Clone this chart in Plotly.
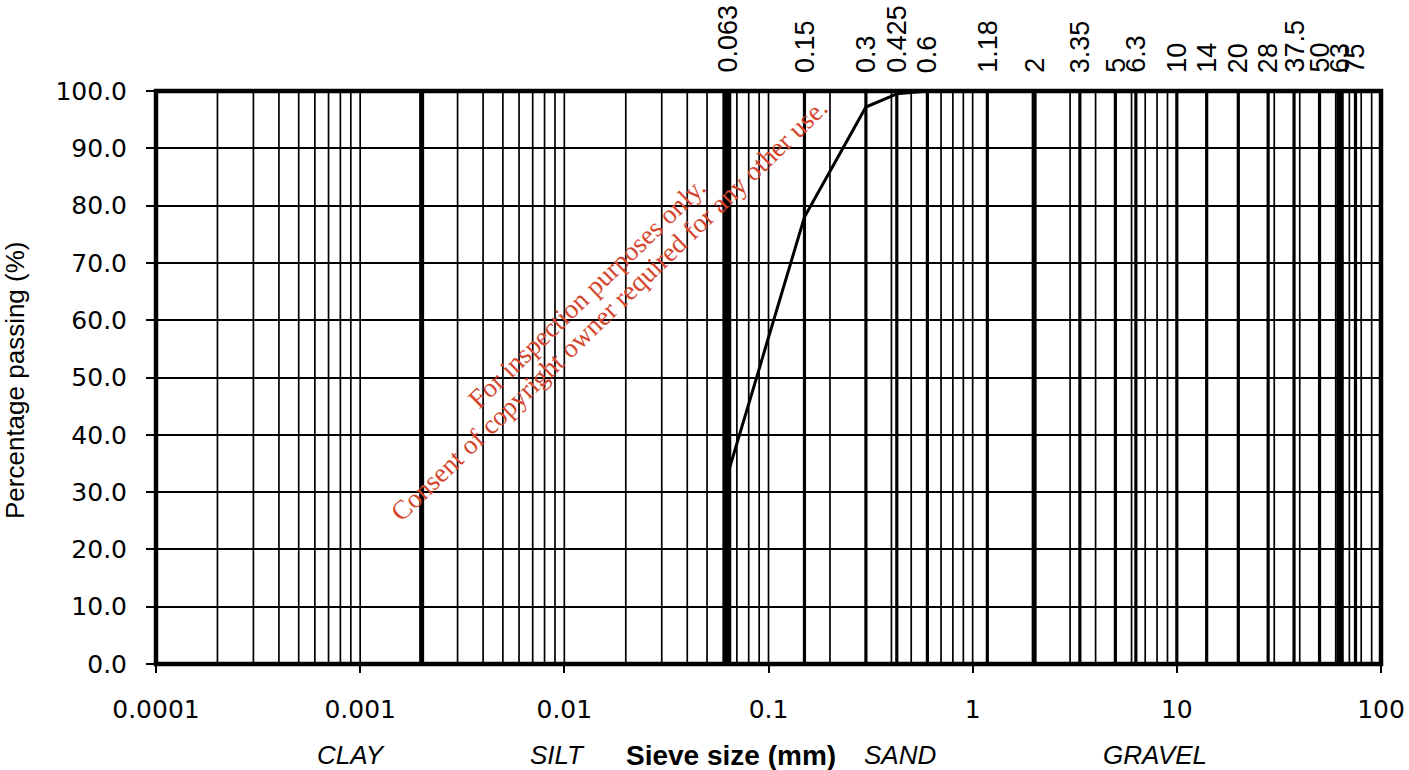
import math
import plotly.graph_objects as go

# ---------------- data ----------------
sieve_sizes = [0.063, 0.15, 0.3, 0.425, 0.6, 1.18, 2, 3.35, 5, 6.3, 10, 14, 20, 28, 37.5, 50, 63, 75]
sieve_labels = ["0.063", "0.15", "0.3", "0.425", "0.6", "1.18", "2", "3.35", "5", "6.3",
                "10", "14", "20", "28", "37.5", "50", "63", "75"]
passing = [33.0, 78.0, 97.2, 99.5, 100.0, 100.0, 100.0, 100.0, 100.0, 100.0,
           100.0, 100.0, 100.0, 100.0, 100.0, 100.0, 100.0, 100.0]

boundary_sizes = [0.002, 2]          # clay/silt and sand/gravel boundaries
heavy_sizes = [0.063, 63]            # silt/sand and gravel/cobble boundaries
x_ticks = [0.0001, 0.001, 0.01, 0.1, 1, 10, 100]
x_tick_labels = ["0.0001", "0.001", "0.01", "0.1", "1", "10", "100"]
y_ticks = [0, 10, 20, 30, 40, 50, 60, 70, 80, 90, 100]
y_tick_labels = ["0.0", "10.0", "20.0", "30.0", "40.0", "50.0", "60.0", "70.0", "80.0", "90.0", "100.0"]
soil_classes = ["CLAY", "SILT", "SAND", "GRAVEL"]
watermark_lines = ["For inspection purposes only.",
                   "Consent of copyright owner required for any other use."]

# ---------------- helpers ----------------
def vlines(xs):
    xx, yy = [], []
    for v in xs:
        xx += [v, v, None]
        yy += [0, 100, None]
    return xx, yy

# log-paper minor grid positions (1..9 per decade)
minor_grid = []
for e in range(-4, 2):
    for m in range(1, 10):
        minor_grid.append(m * 10 ** e)
minor_grid.append(100)

fig = go.Figure()

def add_grid(xs, width):
    gx, gy = vlines(xs)
    fig.add_trace(go.Scatter(x=gx, y=gy, mode="lines", hoverinfo="skip", showlegend=False,
                             line=dict(color="black", width=width)))

add_grid(minor_grid, 1.7)
add_grid(sieve_sizes, 3.2)
add_grid(boundary_sizes, 5)
add_grid(heavy_sizes, 7.5)

fig.add_trace(go.Scatter(x=sieve_sizes, y=passing, mode="lines", showlegend=False,
                         line=dict(color="black", width=3)))

L, R, T, B = 156, 28, 91, 106
W, H = 1409, 770
pw = W - L - R
ph = H - T - B

def px_x(p):
    return (p - L) / pw

def px_y(p):
    return 1 - (p - T) / ph

annotations = []
# top sieve labels
for v, lab in zip(sieve_sizes, sieve_labels):
    annotations.append(dict(x=math.log10(v), y=1, xref="x", yref="paper", text=lab,
                            showarrow=False, textangle=-90, xanchor="center", yanchor="bottom",
                            yshift=16, font=dict(family="Liberation Sans, Arial", size=27, color="black")))

# soil class labels
class_x = [351, 557, 900, 1155]
for name, cx in zip(soil_classes, class_x):
    annotations.append(dict(x=px_x(cx), y=0, xref="paper", yref="paper", text="<i>%s</i>" % name,
                            showarrow=False, xanchor="center", yanchor="middle", yshift=-91,
                            font=dict(family="Liberation Sans Narrow, Liberation Sans, Arial", size=26, color="black")))
annotations.append(dict(x=px_x(731), y=0, xref="paper", yref="paper", text="<b>Sieve size (mm)</b>",
                        showarrow=False, xanchor="center", yanchor="middle", yshift=-91,
                        font=dict(family="Liberation Sans, Arial", size=28, color="black")))
# y axis title
annotations.append(dict(x=px_x(15), y=px_y(381), xref="paper", yref="paper",
                        text="Percentage passing (%)", showarrow=False, textangle=-90,
                        xanchor="center", yanchor="middle",
                        font=dict(family="Liberation Sans, Arial", size=26, color="black")))
# watermark
wm_pos = [(587, 293), (609, 310)]
for txt, (cx, cy) in zip(watermark_lines, wm_pos):
    annotations.append(dict(x=px_x(cx), y=px_y(cy), xref="paper", yref="paper", text=txt,
                            showarrow=False, textangle=-44, xanchor="center", yanchor="middle",
                            font=dict(family="Liberation Serif, Times New Roman", size=27, color="#d4472e")))

fig.update_layout(
    template="none",
    width=W, height=H,
    margin=dict(l=L, r=R, t=T, b=B, autoexpand=False),
    paper_bgcolor="white", plot_bgcolor="white",
    showlegend=False,
    xaxis=dict(type="log", range=[-4, 2], showgrid=False, zeroline=False, showline=False,
               automargin=False,
               tickmode="array", tickvals=x_ticks, ticktext=x_tick_labels,
               ticks="outside", ticklen=8, tickwidth=2, tickcolor="black",
               ticklabelstandoff=15,
               tickfont=dict(family="DejaVu Sans", size=25, color="black")),
    yaxis=dict(range=[0, 100], showgrid=True, gridcolor="black", gridwidth=2, zeroline=False,
               showline=False, automargin=False,
               tickmode="array", tickvals=y_ticks, ticktext=y_tick_labels,
               ticks="outside", ticklen=9, tickwidth=2, tickcolor="black",
               ticklabelstandoff=14,
               tickfont=dict(family="DejaVu Sans", size=25, color="black")),
    annotations=annotations,
    shapes=[dict(type="rect", xref="paper", yref="paper", x0=0, x1=1, y0=0, y1=1,
                 line=dict(color="black", width=4.5), layer="above")],
)

fig.write_html("out.html")
